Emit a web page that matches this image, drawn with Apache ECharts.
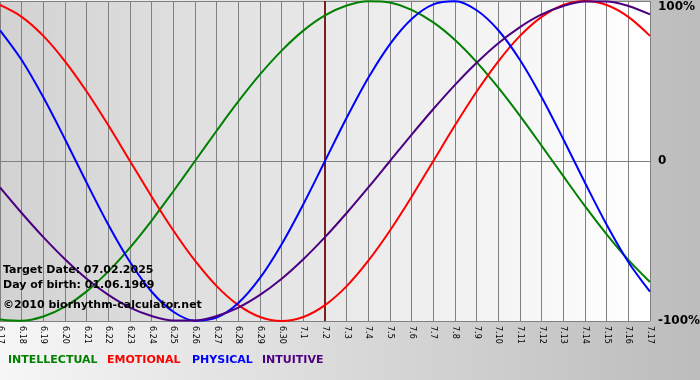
<!DOCTYPE html>
<html>
<head>
<meta charset="utf-8">
<script src="https://cdn.jsdelivr.net/npm/echarts@6/dist/echarts.min.js"></script>
<style>html,body{margin:0;padding:0;}#c{width:700px;height:380px;}</style>
</head>
<body>
<div id="c"></div>
<script>
const dates = ['6.17','6.18','6.19','6.20','6.21','6.22','6.23','6.24','6.25','6.26','6.27','6.28','6.29','6.30','7.1','7.2','7.3','7.4','7.5','7.6','7.7','7.8','7.9','7.10','7.11','7.12','7.13','7.14','7.15','7.16','7.17'];
const intellectual = [-99.0,-99.9,-97.2,-91.0,-81.5,-69.0,-54.1,-37.2,-18.9,0,18.9,37.2,54.1,69.0,81.5,91.0,97.2,99.9,99.0,94.5,86.6,75.6,61.8,45.8,28.2,9.5,-9.5,-28.2,-45.8,-61.8,-75.6];
const emotional = [97.5,90.1,78.2,62.3,43.4,22.3,0,-22.3,-43.4,-62.3,-78.2,-90.1,-97.5,-100,-97.5,-90.1,-78.2,-62.3,-43.4,-22.3,0,22.3,43.4,62.3,78.2,90.1,97.5,100,97.5,90.1,78.2];
const physical = [81.7,63.1,39.8,13.6,-13.6,-39.8,-63.1,-81.7,-94.2,-99.8,-97.9,-88.8,-73.1,-52.0,-27.0,0,27.0,52.0,73.1,88.8,97.9,99.8,94.2,81.7,63.1,39.8,13.6,-13.6,-39.8,-63.1,-81.7];
const intuitive = [-16.5,-32.5,-47.6,-61.4,-73.6,-83.7,-91.6,-96.9,-99.7,-99.7,-96.9,-91.6,-83.7,-73.6,-61.4,-47.6,-32.5,-16.5,0,16.5,32.5,47.6,61.4,73.6,83.7,91.6,96.9,99.7,99.7,96.9,91.6];
const seriesNames = ['INTELLECTUAL','EMOTIONAL','PHYSICAL','INTUITIVE'];
const seriesColors = ['#008000','#ff0000','#0000ff','#4b0082'];
const seriesData = [intellectual, emotional, physical, intuitive];
const targetDate = '7.2';
const infoLines = ['Target Date: 07.02.2025','Day of birth: 01.06.1969','\u00a92010 biorhythm-calculator.net'];
const legendX = [8, 107, 192, 262];

const chart = echarts.init(document.getElementById('c'), null, {renderer:'canvas'});
const grad = (a,b)=>({type:'linear',x:0,y:0,x2:1,y2:0,colorStops:[{offset:0,color:a},{offset:1,color:b}]});

const series = seriesNames.map((n,i)=>({
  name:n, type:'line', data:seriesData[i], smooth:0.33, symbol:'none',
  lineStyle:{color:seriesColors[i], width:2}, itemStyle:{color:seriesColors[i]},
  z: 3
}));
series[0].markLine = {
  silent:true, symbol:'none', label:{show:false},
  lineStyle:{color:'#7a1f1f', width:2, type:'solid'},
  data:[{xAxis:targetDate}], z:2
};

const graphic = [];
const infoY = [272, 287, 307];
infoLines.forEach((t,i)=>graphic.push({
  type:'text', left:3, top:infoY[i]-7, z:10,
  style:{text:t, fill:'#000', font:'bold 11px "DejaVu Sans"'}
}));
seriesNames.forEach((n,i)=>graphic.push({
  type:'text', left:legendX[i], top:355, z:10,
  style:{text:n, fill:seriesColors[i], font:'bold 11px "DejaVu Sans"'}
}));

chart.setOption({
  animation:false,
  backgroundColor: grad('#f6f6f6','#bcbcbc'),
  grid:{left:0, right:50, top:1, bottom:59, show:true, containLabel:false, outerBoundsMode:'none',
        backgroundColor:grad('#d2d2d2','#ffffff'), borderWidth:0},
  xAxis:{
    type:'category', data:dates, boundaryGap:false,
    axisLine:{show:true, lineStyle:{color:'#808080', width:1}},
    axisTick:{show:true, length:4, interval:0, lineStyle:{color:'#808080'}},
    splitLine:{show:true, interval:0, lineStyle:{color:'#808080', width:1}},
    axisLabel:{interval:0, rotate:-90, margin:5, color:'#000', fontSize:8, fontFamily:'DejaVu Sans', showMinLabel:true, showMaxLabel:true}
  },
  yAxis:{
    type:'value', position:'right', min:-100, max:100, interval:100,
    axisLine:{show:false}, axisTick:{show:false},
    splitLine:{show:true, lineStyle:{color:'#808080', width:1}},
    axisLabel:{
      margin:8, color:'#000', fontSize:12, fontWeight:'bold', fontFamily:'DejaVu Sans',
      formatter:v=> v===100 ? '{t|100%}' : (v===0 ? '{z|0}' : '{b|-100%}'),
      rich:{
        t:{fontSize:12, fontWeight:'bold', fontFamily:'DejaVu Sans', color:'#000', padding:[12,0,0,0]},
        z:{fontSize:12, fontWeight:'bold', fontFamily:'DejaVu Sans', color:'#000'},
        b:{fontSize:12, fontWeight:'bold', fontFamily:'DejaVu Sans', color:'#000'}
      }
    }
  },
  series: series,
  graphic: graphic
});
</script>
</body>
</html>
